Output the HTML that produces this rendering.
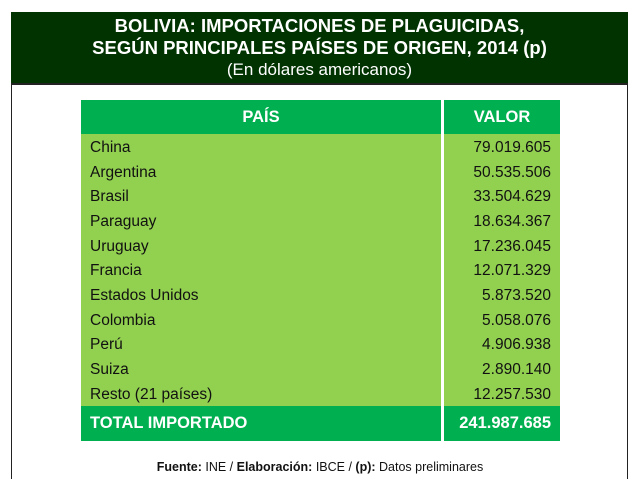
<!DOCTYPE html>
<html><head><meta charset="utf-8"><style>
body{margin:0;width:640px;height:480px;background:#fff;position:relative;overflow:hidden;font-family:"Liberation Sans",Arial,sans-serif}
.box{position:absolute;left:11px;top:12px;width:615px;height:466px;border:1.5px solid #222;border-bottom:none}
.hd{position:absolute;left:11px;top:12px;width:617px;height:71px;background:#003300;border-bottom:2px solid #222;color:#fff;text-align:center}
.hd .t{font-weight:bold;font-size:18.5px;line-height:22px;margin-top:3px}
.hd .s{font-size:17px;line-height:22px}
.bg{position:absolute;left:81px;top:134px;width:479px;height:272px;background:#92d050}
.row{position:absolute;left:81px;width:479px;height:24px;font-size:15.5px;color:#111}
.row span{position:absolute;left:9px;top:5px}
.row b{font-weight:normal;position:absolute;right:9px;top:5px}
.div{position:absolute;left:441px;top:100px;width:3px;height:341px;background:#fff}
.gh{position:absolute;left:81px;width:479px;background:#00b050;color:#fff;font-weight:bold;font-size:16.5px}
.ft{position:absolute;left:0;width:640px;top:460px;text-align:center;font-size:12.5px;color:#111}
</style></head><body>
<div class="box"></div>
<div class="hd"><div class="t">BOLIVIA: IMPORTACIONES DE PLAGUICIDAS,<br>SEGÚN PRINCIPALES PAÍSES DE ORIGEN, 2014 (p)</div><div class="s">(En dólares americanos)</div></div>
<div class="gh" style="top:100px;height:34px"><span style="position:absolute;left:0;width:360px;text-align:center;top:8px">PAÍS</span><span style="position:absolute;left:363px;width:116px;text-align:center;top:8px">VALOR</span></div>
<div class="bg"></div>
<div class="row" style="top:134px"><span>China</span><b>79.019.605</b></div>
<div class="row" style="top:159px"><span>Argentina</span><b>50.535.506</b></div>
<div class="row" style="top:183px"><span>Brasil</span><b>33.504.629</b></div>
<div class="row" style="top:208px"><span>Paraguay</span><b>18.634.367</b></div>
<div class="row" style="top:233px"><span>Uruguay</span><b>17.236.045</b></div>
<div class="row" style="top:257px"><span>Francia</span><b>12.071.329</b></div>
<div class="row" style="top:282px"><span>Estados Unidos</span><b>5.873.520</b></div>
<div class="row" style="top:307px"><span>Colombia</span><b>5.058.076</b></div>
<div class="row" style="top:331px"><span>Perú</span><b>4.906.938</b></div>
<div class="row" style="top:356px"><span>Suiza</span><b>2.890.140</b></div>
<div class="row" style="top:381px"><span>Resto (21 países)</span><b>12.257.530</b></div>
<div class="gh" style="top:406px;height:35px"><span style="position:absolute;left:9px;top:8px">TOTAL IMPORTADO</span><span style="position:absolute;right:9px;top:8px">241.987.685</span></div>
<div class="div"></div>
<div class="ft"><b>Fuente:</b> INE / <b>Elaboración:</b> IBCE / <b>(p):</b> Datos preliminares</div>
</body></html>
